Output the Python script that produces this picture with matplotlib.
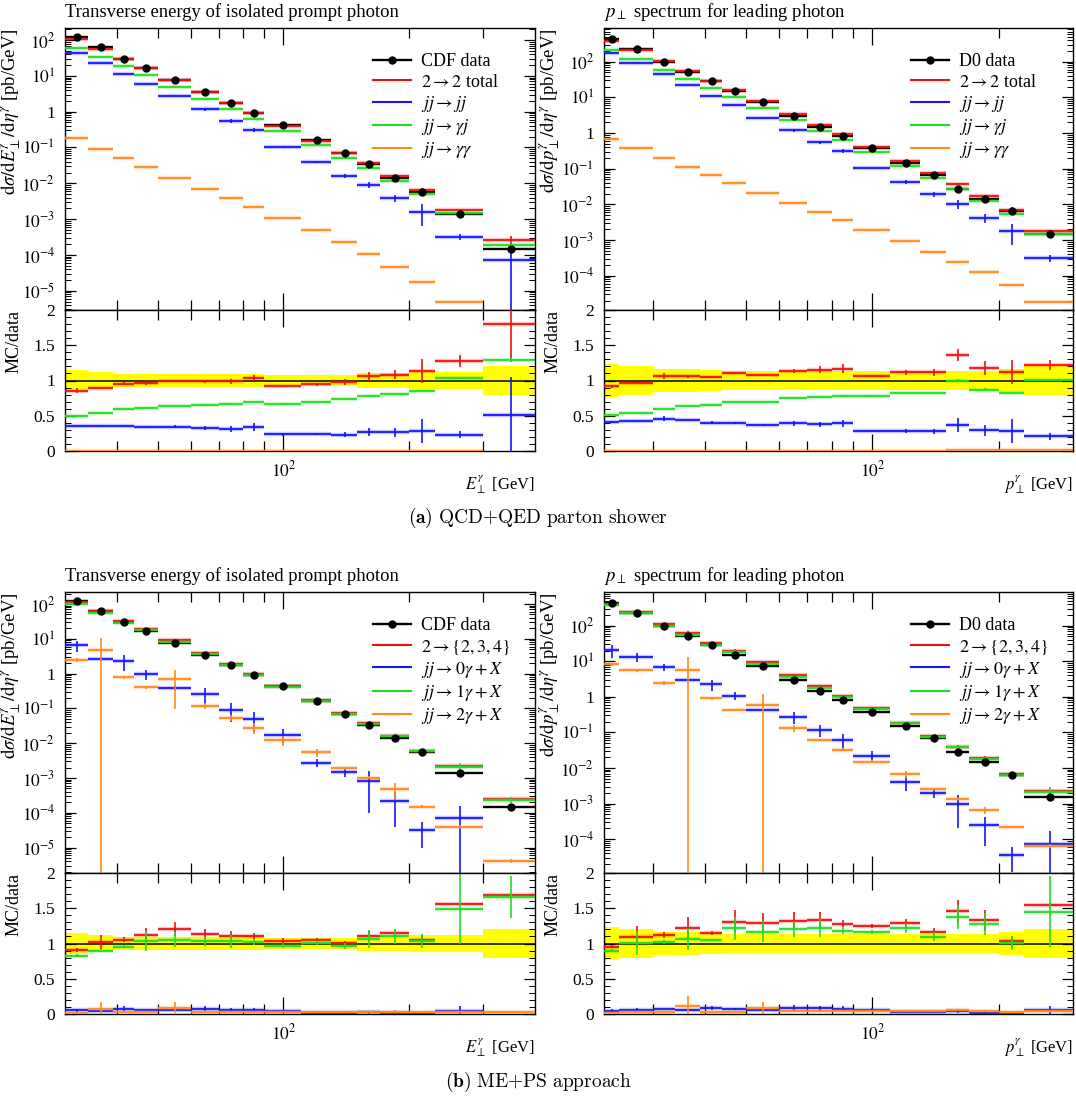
import numpy as np
import matplotlib
matplotlib.use('Agg')
import matplotlib.pyplot as plt
from matplotlib.lines import Line2D
from matplotlib.ticker import FixedLocator, LogLocator, MultipleLocator, FuncFormatter, NullFormatter

plt.rcParams['font.family'] = ['Liberation Serif', 'DejaVu Serif']
plt.rcParams['mathtext.fontset'] = 'stix'

nan = np.nan

# ---- binning ----
cdf_edges = [30, 34, 39, 44, 50, 60, 70, 80, 90, 110, 130, 150, 170, 200, 230, 300, 400]
d0_edges = [23, 25, 30, 34, 39, 44, 50, 60, 70, 80, 90, 110, 130, 150, 170, 200, 230, 300]

# ---- measured data (pb/GeV) and relative uncertainty ----
cdf_data = [124, 62, 30.5, 17, 7.8, 3.5, 1.73, 0.91, 0.435, 0.165, 0.071, 0.034, 0.0144, 0.0057, 0.0014, 1.45e-4]
cdf_rel = [0.15, 0.12, 0.095, 0.095, 0.09, 0.09, 0.09, 0.09, 0.08, 0.08, 0.08, 0.1, 0.1, 0.12, 0.12, 0.2]
d0_data = [423, 222, 98, 52, 28, 15, 7.2, 3.06, 1.47, 0.82, 0.38, 0.147, 0.068, 0.0275, 0.0144, 0.0064, 0.0015]
d0_rel = [0.23, 0.2, 0.17, 0.16, 0.15, 0.14, 0.14, 0.13, 0.13, 0.13, 0.13, 0.13, 0.13, 0.14, 0.14, 0.16, 0.2]

# ---- (a) QCD+QED parton shower, CDF ----
a_cdf_tot = [106.4, 55.8, 29.2, 16.3, 7.76, 3.47, 1.71, 0.946, 0.398, 0.156, 0.0693, 0.036, 0.0156, 0.0065, 0.00179, 2.61e-4]
a_cdf_tot_rel = [0.035, 0.011, 0.02, 0.02, 0.01, 0.02, 0.04, 0.04, 0.011, 0.02, 0.04, 0.057, 0.055, 0.15, 0.063, 0.3]
a_cdf_jj = [44.6, 22.3, 11.0, 5.88, 2.70, 1.155, 0.541, 0.309, 0.103, 0.0399, 0.0165, 0.00918, 0.00382, 0.00162, 3.25e-4, 7.35e-5]
a_cdf_jj_rel = [0.03, 0.02, 0.03, 0.03, 0.06, 0.09, 0.13, 0.15, 0.08, 0.08, 0.13, 0.19, 0.23, 0.6, 0.22, 1.08]
a_cdf_gj = [60.8, 33.2, 18.3, 10.4, 5.03, 2.29, 1.156, 0.637, 0.293, 0.1155, 0.0522, 0.0266, 0.01166, 0.00489, 0.001456, 1.87e-4]
a_cdf_gj_rel = [0.01, 0.01, 0.01, 0.01, 0.01, 0.01, 0.01, 0.01, 0.01, 0.01, 0.01, 0.01, 0.01, 0.015, 0.015, 0.02]
a_cdf_gg = [0.183, 0.092, 0.050, 0.0286, 0.0144, 0.0071, 0.0038, 0.0022, 0.0011, 4.85e-4, 2.23e-4, 1.07e-4, 4.72e-5, 1.75e-5, 4.9e-6, nan]
a_cdf_gg_rel = [0.01] * 16

# ---- (a) QCD+QED parton shower, D0 ----
a_d0_tot = [389, 215, 104, 55.1, 29.3, 16.6, 7.75, 3.48, 1.69, 0.959, 0.403, 0.1638, 0.0758, 0.0374, 0.0170, 0.00717, 0.00183]
a_d0_tot_rel = [0.022, 0.01, 0.038, 0.019, 0.01, 0.018, 0.01, 0.026, 0.043, 0.05, 0.014, 0.036, 0.045, 0.06, 0.085, 0.15, 0.057]
a_d0_jj = [173, 93.2, 45.1, 22.7, 11.2, 6.0, 2.66, 1.20, 0.559, 0.322, 0.108, 0.0426, 0.019, 0.0102, 0.00423, 0.00182, 3.15e-4]
a_d0_jj_rel = [0.025, 0.025, 0.065, 0.025, 0.05, 0.025, 0.03, 0.08, 0.1, 0.13, 0.035, 0.1, 0.14, 0.27, 0.27, 0.6, 0.24]
a_d0_gj = [216, 120, 58.8, 33.0, 18.3, 10.5, 5.04, 2.28, 1.135, 0.64, 0.296, 0.1205, 0.0558, 0.0275, 0.01256, 0.00528, 0.00151]
a_d0_gj_rel = [0.01, 0.01, 0.01, 0.01, 0.01, 0.01, 0.01, 0.01, 0.015, 0.015, 0.01, 0.015, 0.015, 0.02, 0.02, 0.02, 0.02]
a_d0_gg = [0.69, 0.39, 0.195, 0.111, 0.065, 0.0398, 0.0212, 0.0109, 0.0062, 0.0037, 0.00195, 9.4e-4, 4.7e-4, 2.47e-4, 1.29e-4, 5.6e-5, 1.83e-5]
a_d0_gg_rel = [0.01] * 17

# ---- (b) ME+PS approach, CDF ----
b_cdf_tot = [112.2, 63.2, 32.2, 19.0, 9.36, 3.98, 1.91, 1.005, 0.453, 0.1736, 0.0717, 0.0375, 0.0165, 0.00602, 0.00218, 2.44e-4]
b_cdf_tot_rel = [0.033, 0.098, 0.028, 0.09, 0.083, 0.062, 0.072, 0.036, 0.029, 0.029, 0.03, 0.063, 0.044, 0.057, 0.013, 0.012]
b_cdf_0g = [6.6, 2.7, 2.3, 0.95, 0.394, 0.265, 0.09, 0.051, 0.0176, 0.00275, 0.00149, 8.4e-4, 2.2e-4, 3.2e-5, 6.9e-5, nan]
b_cdf_0g_rel = [0.35, 0.11, 0.48, 0.32, 0.13, 0.49, 0.56, 0.59, 0.43, 0.25, 0.27, 0.88, 0.82, 0.69, 1.3, nan]
b_cdf_1g = [102.3, 55.6, 29.1, 17.7, 8.24, 3.6, 1.787, 0.928, 0.422, 0.1658, 0.0687, 0.0361, 0.01584, 0.00592, 0.00208, 2.40e-4]
b_cdf_1g_rel = [0.024, 0.022, 0.021, 0.135, 0.095, 0.068, 0.087, 0.039, 0.031, 0.03, 0.041, 0.123, 0.091, 0.096, 0.336, 0.181]
b_cdf_2g = [2.46, 4.77, 0.80, 0.40, 0.70, 0.12, 0.053, 0.028, 0.0124, 0.0055, 0.00194, 0.00102, 4.8e-4, 1.5e-4, 4e-5, 4.1e-6]
b_cdf_2g_rel = [0.12, 1.26, 0.1, 0.075, 0.86, 0.21, 0.19, 0.36, 0.32, 0.27, 0.1, 0.1, 0.52, 0.1, 0.1, 0.12]

# ---- (b) ME+PS approach, D0 ----
b_d0_tot = [404, 243.5, 109.9, 63.8, 32.3, 19.65, 9.34, 4.05, 1.96, 1.048, 0.475, 0.189, 0.0792, 0.0402, 0.01915, 0.00659, 0.00231]
b_d0_tot_rel = [0.021, 0.137, 0.036, 0.122, 0.026, 0.122, 0.108, 0.091, 0.09, 0.039, 0.024, 0.047, 0.043, 0.103, 0.113, 0.078, 0.02]
b_d0_0g = [20.7, 13.5, 6.9, 2.9, 2.25, 1.08, 0.42, 0.278, 0.117, 0.0616, 0.0221, 0.0040, 0.00195, 0.001, 2.45e-4, 3.7e-5, 7.5e-5]
b_d0_0g_rel = [0.39, 0.3, 0.22, 0.035, 0.36, 0.23, 0.05, 0.36, 0.38, 0.49, 0.36, 0.45, 0.26, 0.8, 0.73, 0.68, 1.3]
b_d0_1g = [380, 224.7, 100.5, 55.3, 29.4, 18.24, 8.42, 3.69, 1.80, 0.966, 0.442, 0.1788, 0.0746, 0.038, 0.0184, 0.00641, 0.00218]
b_d0_1g_rel = [0.022, 0.168, 0.029, 0.141, 0.019, 0.132, 0.128, 0.099, 0.106, 0.042, 0.026, 0.058, 0.055, 0.123, 0.125, 0.1, 0.344]
b_d0_2g = [8.4, 5.56, 2.5, 5.6, 0.91, 0.437, 0.59, 0.136, 0.061, 0.0328, 0.0151, 0.0068, 0.00258, 0.00138, 6.6e-4, 2.26e-4, 6.6e-5]
b_d0_2g_rel = [0.095, 0.09, 0.12, 1.43, 0.09, 0.07, 1.1, 0.22, 0.08, 0.09, 0.08, 0.22, 0.08, 0.07, 0.24, 0.07, 0.12]

RED, BLUE, GREEN, ORANGE = '#ee1111', '#1515ff', '#22dd22', '#ff8a1c'

W, H = 1076, 1103
fig = plt.figure(figsize=(W / 100, H / 100), dpi=100)


def px_axes(x0, x1, y0, y1):
    return fig.add_axes([x0 / W, 1 - y1 / H, (x1 - x0) / W, (y1 - y0) / H])


def log_label(v, pos):
    n = int(round(np.log10(v)))
    return '1' if n == 0 else r'$10^{%d}$' % n


def panel(xs, ys, edges, data, data_rel, series, ylim, xlim, title, ylabel, xlabel, data_label):
    ax = px_axes(xs[0], xs[1], ys[0], ys[1])
    axr = px_axes(xs[0], xs[1], ys[1], ys[2])
    wpx = xs[1] - xs[0]
    edges = np.array(edges, float)
    lo, hi = edges[:-1], edges[1:]
    mid = 0.5 * (lo + hi)
    data = np.array(data, float)
    drel = np.array(data_rel, float)

    # main panel
    ax.hlines(data, lo, hi, color='k', lw=1.7, zorder=3)
    ax.errorbar(mid, data, yerr=data * drel, fmt='o', color='k', ms=5, elinewidth=1.2, zorder=6)
    handles = [Line2D([], [], color='k', lw=1.7, marker='o', ms=5)]
    labels = [data_label]
    for vals, rel, color, label in series:
        vals = np.array(vals, float)
        err = vals * np.array(rel, float)
        low = np.where(vals - err > 0, vals - err, ylim[0] * 0.1)
        ax.hlines(vals, lo, hi, color=color, lw=3.2, alpha=0.25, zorder=4)
        ax.hlines(vals, lo, hi, color=color, lw=1.3, zorder=4)
        ax.vlines(mid, low, vals + err, color=color, lw=1.2, zorder=4)
        # ratio
        r = vals / data
        axr.hlines(r, lo, hi, color=color, lw=3.2, alpha=0.25, zorder=4)
        axr.hlines(r, lo, hi, color=color, lw=1.3, zorder=4)
        axr.vlines(mid, r - err / data, r + err / data, color=color, lw=1.2, zorder=4)
        handles.append(Line2D([], [], color=color, lw=1.5))
        labels.append(label)

    ax.set_yscale('log')
    ax.set_ylim(ylim)
    ax.yaxis.set_major_locator(LogLocator(base=10, numticks=20))
    ax.yaxis.set_minor_locator(LogLocator(base=10, subs=np.arange(2, 10), numticks=50))
    ax.yaxis.set_major_formatter(FuncFormatter(log_label))
    ax.yaxis.set_minor_formatter(NullFormatter())
    ax.set_title(title, loc='left', fontsize=13.4, pad=8)
    ax.set_ylabel(ylabel, loc='top', fontsize=13.5)
    ax.yaxis.set_label_coords(-42 / wpx, 1.0)
    ax.legend(handles, labels, loc='upper left', bbox_to_anchor=(0.655, 0.91), frameon=False,
              fontsize=13, handlelength=2.1, handletextpad=0.55, labelspacing=0.18,
              borderpad=0, borderaxespad=0)

    # ratio panel
    axr.bar(lo, 2 * drel, bottom=1 - drel, width=hi - lo, align='edge', color='#ffff00', lw=0, zorder=1)
    axr.axhline(1, color='k', lw=1.1, zorder=2)
    axr.set_ylim(0, 2)
    axr.yaxis.set_major_locator(MultipleLocator(0.5))
    axr.yaxis.set_minor_locator(MultipleLocator(0.1))
    axr.yaxis.set_major_formatter(FuncFormatter(lambda v, p: '%g' % v))
    axr.set_ylabel('MC/data', loc='top', fontsize=13)
    axr.yaxis.set_label_coords(-42 / wpx, 1.0)
    axr.set_xlabel(xlabel, loc='right', fontsize=12)
    axr.xaxis.set_label_coords(1.0, -0.16)

    minor = [v for v in [20, 30, 40, 50, 60, 70, 80, 90, 200, 300, 400] if xlim[0] < v < xlim[1]]
    for a in (ax, axr):
        a.set_xscale('log')
        a.set_xlim(xlim)
        a.xaxis.set_major_locator(FixedLocator([100]))
        a.xaxis.set_minor_locator(FixedLocator(minor))
        a.xaxis.set_minor_formatter(NullFormatter())
        a.tick_params(which='both', direction='in', top=True, right=True, labelsize=12.5, pad=7)
        a.tick_params(axis='x', which='major', length=12, width=0.9)
        a.tick_params(axis='x', which='minor', length=7, width=0.9)
        a.tick_params(axis='y', which='major', length=8, width=0.9)
        a.tick_params(axis='y', which='minor', length=4, width=0.7)
        for s in a.spines.values():
            s.set_linewidth(1.0)
    ax.xaxis.set_major_formatter(NullFormatter())
    axr.xaxis.set_major_formatter(FuncFormatter(log_label))


et_title = 'Transverse energy of isolated prompt photon'
pt_title = r'$p_\perp$ spectrum for leading photon'
et_ylabel = r'$\mathrm{d}\sigma/\mathrm{d}E_\perp^\gamma/\mathrm{d}\eta^\gamma$ [pb/GeV]'
pt_ylabel = r'$\mathrm{d}\sigma/\mathrm{d}p_\perp^\gamma/\mathrm{d}\eta^\gamma$ [pb/GeV]'
et_xlabel = r'$E_\perp^\gamma$ [GeV]'
pt_xlabel = r'$p_\perp^\gamma$ [GeV]'

LX, RX = (65, 535), (604, 1073)
TY, BY = (28, 310, 451), (592, 873, 1014)

panel(LX, TY, cdf_edges, cdf_data, cdf_rel,
      [(a_cdf_tot, a_cdf_tot_rel, RED, r'$2\rightarrow 2$ total'),
       (a_cdf_jj, a_cdf_jj_rel, BLUE, r'$jj\rightarrow jj$'),
       (a_cdf_gj, a_cdf_gj_rel, GREEN, r'$jj\rightarrow \gamma j$'),
       (a_cdf_gg, a_cdf_gg_rel, ORANGE, r'$jj\rightarrow \gamma\gamma$')],
      (2.9e-6, 217), (30, 400), et_title, et_ylabel, et_xlabel, 'CDF data')

panel(RX, TY, d0_edges, d0_data, d0_rel,
      [(a_d0_tot, a_d0_tot_rel, RED, r'$2\rightarrow 2$ total'),
       (a_d0_jj, a_d0_jj_rel, BLUE, r'$jj\rightarrow jj$'),
       (a_d0_gj, a_d0_gj_rel, GREEN, r'$jj\rightarrow \gamma j$'),
       (a_d0_gg, a_d0_gg_rel, ORANGE, r'$jj\rightarrow \gamma\gamma$')],
      (1.1e-5, 879), (23, 300), pt_title, pt_ylabel, pt_xlabel, 'D0 data')

panel(LX, BY, cdf_edges, cdf_data, cdf_rel,
      [(b_cdf_tot, b_cdf_tot_rel, RED, r'$2\rightarrow \{2,3,4\}$'),
       (b_cdf_0g, b_cdf_0g_rel, BLUE, r'$jj\rightarrow 0\gamma+X$'),
       (b_cdf_1g, b_cdf_1g_rel, GREEN, r'$jj\rightarrow 1\gamma+X$'),
       (b_cdf_2g, b_cdf_2g_rel, ORANGE, r'$jj\rightarrow 2\gamma+X$')],
      (1.86e-6, 221), (30, 400), et_title, et_ylabel, et_xlabel, 'CDF data')

panel(RX, BY, d0_edges, d0_data, d0_rel,
      [(b_d0_tot, b_d0_tot_rel, RED, r'$2\rightarrow \{2,3,4\}$'),
       (b_d0_0g, b_d0_0g_rel, BLUE, r'$jj\rightarrow 0\gamma+X$'),
       (b_d0_1g, b_d0_1g_rel, GREEN, r'$jj\rightarrow 1\gamma+X$'),
       (b_d0_2g, b_d0_2g_rel, ORANGE, r'$jj\rightarrow 2\gamma+X$')],
      (1.12e-5, 885), (23, 300), pt_title, pt_ylabel, pt_xlabel, 'D0 data')

fig.text(538 / W, 1 - 518 / H, r'$\mathbf{(a)}\ \mathrm{QCD{+}QED\ parton\ shower}$',
         ha='center', va='center', fontsize=14, math_fontfamily='cm')
fig.text(538 / W, 1 - 1082 / H, r'$\mathbf{(b)}\ \mathrm{ME{+}PS\ approach}$',
         ha='center', va='center', fontsize=14, math_fontfamily='cm')

fig.savefig('out.png', dpi=100)
